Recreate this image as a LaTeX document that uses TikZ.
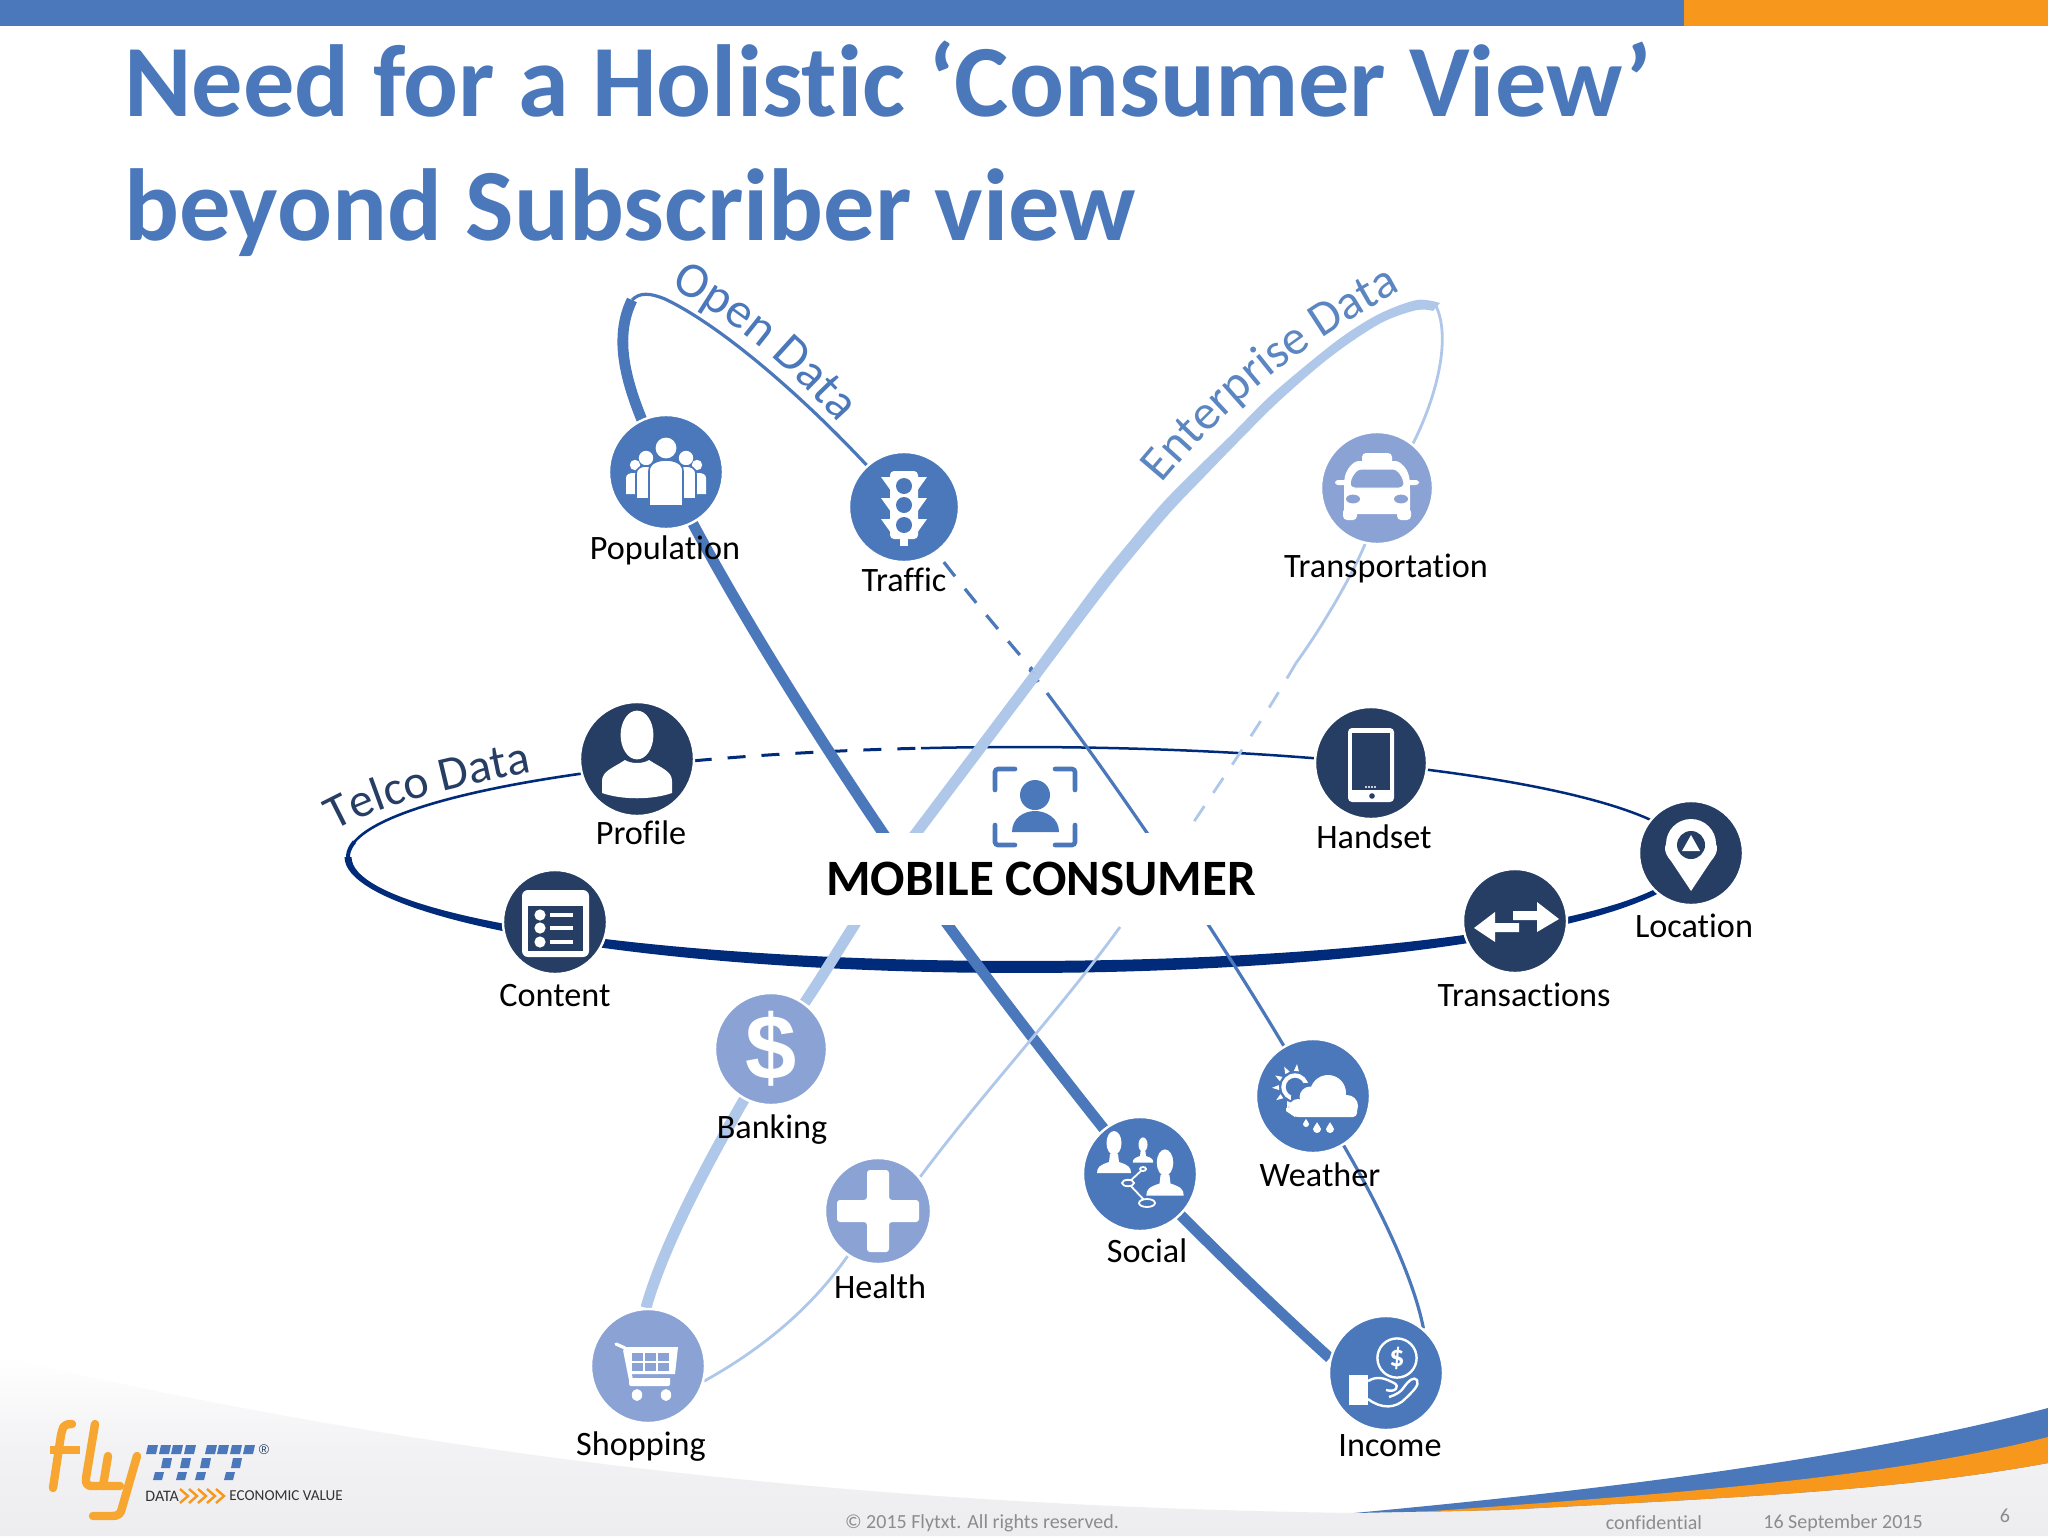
\documentclass[tikz,border=0pt]{standalone}
\usepackage{fontspec}
\setmainfont[Ligatures=NoCommon]{Carlito}
\newfontfamily\liberb{Liberation Sans}
\usetikzlibrary{backgrounds,decorations.text}
\pgfdeclarelayer{orbits}
\pgfsetlayers{background,orbits,main}
\definecolor{bl}{HTML}{4A78BB}
\definecolor{lb}{HTML}{AFC8EA}
\definecolor{pe}{HTML}{8BA3D4}
\definecolor{dk}{HTML}{263D64}
\definecolor{nv}{HTML}{002B7A}
\definecolor{og}{HTML}{F7981D}
\definecolor{ft}{HTML}{8C8C8C}
\definecolor{lg}{HTML}{F7A632}
\definecolor{gy}{HTML}{EDEDF0}
\newcommand{\fs}[1]{\fontsize{#1}{#1}\selectfont}
\tikzset{
  hub/.style n args={2}{circle,inner sep=0pt,minimum size=#1*1pt+1pt,fill=#2,draw=white,line width=1.2pt},
  lab/.style={font=\fs{17.1},text=black,inner sep=0pt,text height=11.5pt,text depth=3.5pt,yshift=-2pt},
  foot/.style={font=\fs{10},text=ft,inner sep=0pt},
  thickopen/.style={draw=bl,line width=5.4pt},
  thinopen/.style={draw=bl,line width=1.6pt},
  thicken/.style={draw=lb,line width=5.5pt},
  thinen/.style={draw=lb,line width=1.4pt},
  dashy/.style={dash pattern=on 9pt off 8pt},
  plotsm/.style={smooth,tension=.55}
}
\newcommand{\bustIcon}[3]{%
  \begin{scope}[shift={(#1,#2)},scale=#3]
    \fill[white] (0,-14) ellipse[x radius=7.5*.5pt,y radius=12*.5pt];
    \fill[white] (-4,-3) -- (4,-3) -- (5,5) .. controls (14,8) and (17,10) .. (17,16) -- (-17,16) .. controls (-17,10) and (-14,8) .. (-5,5) -- cycle;
  \end{scope}}
\newcommand{\dropIcon}[3]{%
  \fill[white] (#1,#2-#3*1.7) .. controls (#1+#3*.3,#2-#3*.9) and (#1+#3,#2-#3*.5) .. (#1+#3,#2) arc[start angle=0,end angle=-180,radius=#3*.5pt] .. controls (#1-#3,#2-#3*.5) and (#1-#3*.3,#2-#3*.9) .. cycle;}
\begin{document}
\begin{tikzpicture}[x=.5pt,y=-.5pt]
\useasboundingbox (0,0) rectangle (2048,1536);
\begin{pgfonlayer}{background}
\fill[white] (0,0) rectangle (2048,1536);
\fill[bl] (0,0) rectangle (1684,26);
\fill[og] (1684,0) rectangle (2048,26);
\path[top color=white,bottom color=gy,middle color=gy!70!white] (0,1357) .. controls (380,1445) and (800,1505) .. (1354,1513) -- (2048,1460) -- (2048,1536) -- (0,1536) -- cycle;
\fill[bl] (1354,1513) .. controls (1600,1490) and (1850,1460) .. (2048,1408) -- (2048,1463) .. controls (1900,1490) and (1750,1497) .. (1500,1510) -- cycle;
\fill[og] (1420,1512) .. controls (1650,1495) and (1880,1480) .. (2048,1437) -- (2048,1463) .. controls (1900,1490) and (1750,1497) .. (1500,1510) -- cycle;
\end{pgfonlayer}
% title
\node[anchor=base west,inner sep=0pt,font=\fs{51.2}\bfseries,text=bl] (t1) at (124,117) {Need for a Holistic ‘Consumer View’};
\node[anchor=base west,inner sep=0pt,font=\fs{51.2}\bfseries,text=bl] (t2) at (124,240) {beyond Subscriber view};
% hubs
\node[hub={56}{bl}] (pop) at (666,472) {};
\node[hub={54}{bl}] (tra) at (904,507) {};
\node[hub={55}{pe}] (tpt) at (1377,488) {};
\node[hub={56}{dk}] (pro) at (637,759) {};
\node[hub={55}{dk}] (han) at (1371,763) {};
\node[hub={51}{dk}] (loc) at (1691,853) {};
\node[hub={51}{dk}] (trn) at (1515,921) {};
\node[hub={51}{dk}] (con) at (555,922) {};
\node[hub={55}{pe}] (ban) at (771,1049) {};
\node[hub={52}{pe}] (hea) at (878,1211) {};
\node[hub={56}{bl}] (soc) at (1140,1174) {};
\node[hub={56}{bl}] (wea) at (1313,1096) {};
\node[hub={56}{pe}] (sho) at (648,1366) {};
\node[hub={56}{bl}] (inc) at (1386,1373) {};
% centre block
\node[fill=white,minimum width=205pt,minimum height=46pt,inner sep=0pt,font=\fs{25.5}\bfseries,text=black] (mc) at (1041,879) {MOBILE CONSUMER};
% orbits
\begin{pgfonlayer}{orbits}
\coordinate (oa) at (632,300);
\coordinate (ea) at (1436,306);
\coordinate (og1) at (883,833);
\coordinate (eg1) at (917,832);
\coordinate (xa) at (1036,674);
\coordinate (oc) at (1047,693);
\coordinate (ed) at (1296,663);
\coordinate (ee) at (1189,829);
\coordinate (ef) at (1120,927);
% telco
\fill[nv] plot[domain=180:0,samples=90] ({1019+674.5*cos(\x)},{857+(113.5+2.5*sin(\x))*sin(\x)})
  -- plot[domain=0:180,samples=90] ({1019+667.5*cos(\x)},{857+(106.5-2.5*sin(\x))*sin(\x)}) -- cycle;
\draw[nv,line width=2pt] plot[domain=181:172,samples=10] ({1019+671*cos(\x)},{857-110*sin(\x)});
\draw[nv,line width=1.3pt] plot[domain=175:119,samples=40] ({1019+671*cos(\x)},{857-110*sin(\x)});
\draw[nv,line width=1.5pt,dashy] plot[domain=119:98.4,samples=20] ({1019+671*cos(\x)},{857-110*sin(\x)});
\draw[nv,line width=1.25pt] plot[domain=98.4:0,samples=70] ({1019+671*cos(\x)},{857-110*sin(\x)});
% open data
\draw[thickopen] (oa) .. controls (610,345) and (630,400) .. (pop.center)
  .. controls (725,590) and (810,725) .. (og1)
  .. controls (940,918) and (1040,1050) .. (soc.center)
  .. controls (1190,1225) and (1260,1295) .. (inc.165);
\draw[thinopen] (oa) .. controls (640,292) and (650,293) .. (665,299) .. controls (730,330) and (830,420) .. (tra.center);
\draw[thinopen,dashy] (tra.center) .. controls (940,561) and (990,620) .. (xa);
\draw[thinopen,line width=2pt] (1030,669) -- (1038,682);
\draw[thinopen] (oc) .. controls (1120,790) and (1230,950) .. (wea.center)
  .. controls (1355,1160) and (1410,1260) .. (inc.50);
% enterprise data
\fill[lb] plot[plotsm] coordinates {(1440,303) (1417,300) (1381,313) (1347,333.4) (1314,358.7) (1269.5,396.5) (1229.5,436.5) (1196,469) (1162.5,503) (1128.3,543.2) (1095.3,584.2) (1031.7,670.6)}
  -- plot[plotsm] coordinates {(1040.3,677.4) (1104.7,591.8) (1137.7,550.8) (1171.5,511) (1204,477) (1236.5,443.5) (1276.5,403.5) (1320,365.3) (1353,340.6) (1385,321) (1417,310) (1433,311)} -- cycle;
\draw[thicken] (xa) -- (eg1) .. controls (880,880) and (840,950) .. (ban.54);
\draw[thicken] (ban.242) .. controls (715,1150) and (665,1240) .. (sho.92);
\draw[thinen] (ea) .. controls (1452,340) and (1435,400) .. (tpt.51);
\draw[thinen] (tpt.258) .. controls (1350,580) and (1320,630) .. (ed);
\draw[thinen,dashy] (ed) .. controls (1260,725) and (1225,775) .. (ee);
\draw[thinen] (ef) .. controls (1060,1010) and (985,1090) .. (hea.39);
\draw[thinen] (hea.236) .. controls (810,1310) and (760,1350) .. (sho.-15);
\end{pgfonlayer}
% curved names
\path[decorate,decoration={text along path,text format delimiters={|}{|},text={|\fs{24}\color{dk}|Telco Data}}] (335,831) .. controls (385,803) and (455,786) .. (555,768);
\path[decorate,decoration={text along path,text format delimiters={|}{|},text={|\fs{25}\color{bl}|Open Data}}] (670,288) .. controls (730,318) and (790,365) .. (862,450);
\path[decorate,decoration={text along path,text format delimiters={|}{|},text={|\fs{24.5}\color{bl!90!white}|Enterprise Data}}] (1162,484) .. controls (1230,402) and (1310,335) .. (1430,276);
% labels
\node[lab] (lpop) at (665,547) {Population};
\node[lab] (ltra) at (904,579) {Traffic};
\node[lab] (ltpt) at (1386,565) {Transportation};
\node[lab] (lpro) at (641,832) {Profile};
\node[lab] (lhan) at (1374,836) {Handset};
\node[lab] (lloc) at (1694,925) {Location};
\node[lab] (ltrn) at (1524,994) {Transactions};
\node[lab] (lcon) at (555,994) {Content};
\node[lab] (lban) at (772,1126) {Banking};
\node[lab] (lhea) at (880,1286) {Health};
\node[lab] (lsoc) at (1147,1250) {Social};
\node[lab] (lwea) at (1320,1174) {Weather};
\node[lab] (lsho) at (641,1443) {Shopping};
\node[lab] (linc) at (1390,1444) {Income};
% footer
\node[foot] (f1) at (982,1523) {© 2015 Flytxt. All rights reserved.};
\node[foot] (f2) at (1654,1523) {confidential};
\node[foot] (f3) at (1843,1523) {16 September 2015};
\node[foot] (f4) at (2005,1516) {6};
% centre icon
\begin{scope}[draw=bl,line width=2.3pt,line cap=round,rounded corners=1.5pt]
\draw (995,790) |- (1015,769);
\draw (1055,769) -| (1075,790);
\draw (995,825) |- (1015,845);
\draw (1055,845) -| (1075,825);
\end{scope}
\fill[bl] (1035,795) circle[radius=7.5pt];
\fill[bl] (1012,832) .. controls (1012,818) and (1024,811) .. (1035,811) .. controls (1046,811) and (1059,818) .. (1059,832) -- cycle;
% population icon
\begin{scope}[shift={(666,472)}]
\fill[white] (-31,-7) circle[radius=2.6pt] (31,-7) circle[radius=2.6pt];
\fill[white] (-40,22) -- (-40,6) .. controls (-40,2) and (-36,1) .. (-32,1) -- (-24,1) -- (-24,22) -- cycle;
\fill[white] (40,22) -- (40,6) .. controls (40,2) and (36,1) .. (32,1) -- (24,1) -- (24,22) -- cycle;
\fill[white] (-20,-14) circle[radius=3.6pt] (20,-14) circle[radius=3.6pt];
\filldraw[white,draw=bl,line width=.8pt] (-30,27) -- (-30,2) .. controls (-30,-4) and (-25,-6) .. (-20,-6) .. controls (-15,-6) and (-10,-4) .. (-10,2) -- (-10,27) -- cycle;
\filldraw[white,draw=bl,line width=.8pt] (30,27) -- (30,2) .. controls (30,-4) and (25,-6) .. (20,-6) .. controls (15,-6) and (10,-4) .. (10,2) -- (10,27) -- cycle;
\fill[white] (0,-24) circle[radius=5.2pt];
\filldraw[white,draw=bl,line width=.8pt] (-17,34) -- (-17,-1) .. controls (-17,-9) and (-8,-12) .. (0,-12) .. controls (8,-12) and (17,-9) .. (17,-1) -- (17,34) -- cycle;
\end{scope}
% traffic light icon
\begin{scope}[shift={(904,507)}]
\fill[white,rounded corners=2pt] (-14,-36) rectangle (14,32);
\fill[white] (-4,30) rectangle (4,39);
\foreach \yy in {-30,-9,12}{\fill[white] (-23,\yy) -- (-13,\yy) -- (-13,\yy+14) -- cycle; \fill[white] (23,\yy) -- (13,\yy) -- (13,\yy+14) -- cycle;}
\foreach \yy in {-21,-2,18}{\fill[bl] (0,\yy) circle[radius=4pt];}
\end{scope}
% taxi icon
\begin{scope}[shift={(1377,488)}]
\fill[white,rounded corners=2pt] (-15,-35) rectangle (15,-20);
\fill[white,rounded corners=3pt] (-33,26) -- (-33,-2) .. controls (-32,-18) and (-24,-27) .. (-12,-27) -- (12,-27) .. controls (24,-27) and (32,-18) .. (33,-2) -- (33,26) -- cycle;
\fill[white,rounded corners=1.5pt] (-42,-8) rectangle (-30,-3) (30,-8) rectangle (42,-3);
\fill[white,rounded corners=2pt] (-34,20) rectangle (-20,32) (20,20) rectangle (34,32);
\filldraw[pe,draw=white,line width=.5pt,rounded corners=3pt] (-28,0) .. controls (-25,-14) and (-20,-19) .. (-10,-19) -- (10,-19) .. controls (20,-19) and (25,-14) .. (28,0) -- cycle;
\fill[pe] (-24,11) ellipse[x radius=3.5pt,y radius=2.2pt] (24,11) ellipse[x radius=3.5pt,y radius=2.2pt];
\end{scope}
% profile icon
\begin{scope}[shift={(637,759)}]
\fill[white] (0,-24) ellipse[x radius=8.2pt,y radius=12.2pt];
\fill[white] (-35,34) -- (-35,22) .. controls (-35,12) and (-24,9) .. (-12,1) .. controls (-6,5) and (6,5) .. (12,1) .. controls (24,9) and (35,12) .. (35,22) -- (35,34) .. controls (15,41) and (-15,41) .. (-35,34) -- cycle;
\end{scope}
% handset icon
\begin{scope}[shift={(1371,763)}]
\fill[white,rounded corners=2pt] (-23,-35) rectangle (23,39);
\fill[dk] (-19,-30) rectangle (19,27);
\fill[dk] (1,33) circle[radius=1.4pt];
\foreach \xx in {-5,-2,1,4}{\fill[white] (\xx,24) circle[radius=.6pt];}
\end{scope}
% location icon
\begin{scope}[shift={(1691,853)}]
\fill[white] (0,38) -- (-20,8) .. controls (-28,-1) and (-26,-7) .. (-25,-9) arc[start angle=180,end angle=0,radius=12.5pt] .. controls (26,-7) and (28,-1) .. (20,8) -- cycle;
\fill[dk] (0,-8) circle[radius=7pt];
\fill[white] (0,-18) -- (9,-2) -- (-9,-2) -- cycle;
\end{scope}
% transactions icon
\begin{scope}[shift={(1515,921)}]
\fill[white] (44,-2) -- (22,-19) -- (22,-10) -- (-2,-10) -- (-2,-1) -- (22,-1) -- (22,11) -- cycle;
\fill[white] (-41,7) -- (-20,-9) -- (-20,2) -- (4,2) -- (4,11) -- (-20,11) -- (-20,21) -- cycle;
\end{scope}
% content icon
\begin{scope}[shift={(555,922)}]
\fill[white,rounded corners=3pt] (-33,-32) rectangle (34,35);
\fill[dk] (-27,-16) rectangle (28,29);
\foreach \yy in {-7,6,20}{\fill[white] (-15,\yy) circle[radius=2.8pt]; \fill[white] (-5,\yy-2.2) rectangle (18,\yy+2.2);}
\end{scope}
% banking icon
\node[inner sep=0pt,font=\liberb\fs{46}\bfseries,text=white] (dollar) at (771,1049) {\$};
% health icon
\begin{scope}[shift={(878,1211)}]
\fill[white,rounded corners=1.5pt] (-11,-41) -- (11,-41) -- (11,-11) -- (41,-11) -- (41,11) -- (11,11) -- (11,41) -- (-11,41) -- (-11,11) -- (-41,11) -- (-41,-11) -- (-11,-11) -- cycle;
\end{scope}
% social icon
\bustIcon{1114}{1157}{1}
\bustIcon{1143}{1153}{.6}
\bustIcon{1165}{1178}{1.1}
\begin{scope}[shift={(1140,1174)}]
\draw[white,line width=.9pt] (3,-5) -- (-12,9) -- (7,29);
\filldraw[bl,draw=white,line width=.9pt] (3,-5) ellipse[x radius=1.5pt,y radius=1pt];
\filldraw[bl,draw=white,line width=.9pt] (-12,9) ellipse[x radius=3pt,y radius=1.6pt];
\filldraw[bl,draw=white,line width=.9pt] (7,29) ellipse[x radius=4pt,y radius=2pt];
\end{scope}
% weather icon
\begin{scope}[shift={(1313,1096)}]
\foreach \aa in {85,118,150,182,215,250}{\fill[white] ({-18+16*cos(\aa)-2.5*sin(\aa)},{-9-16*sin(\aa)-2.5*cos(\aa)}) -- ({-18+16*cos(\aa)+2.5*sin(\aa)},{-9-16*sin(\aa)+2.5*cos(\aa)}) -- ({-18+23*cos(\aa)},{-9-23*sin(\aa)}) -- cycle;}
\filldraw[white] (-18,-9) circle[radius=6.6pt];
\fill[bl] (-18,-9) circle[radius=4.6pt];
\fill[bl] (-7,2) circle[radius=7.5pt];
\fill[bl] (15,-3) circle[radius=10.5pt];
\fill[white] (15,-3) circle[radius=9pt] (34,10) circle[radius=5.5pt] (-15,12) circle[radius=4.5pt] (-3,1) circle[radius=5.2pt];
\fill[white,rounded corners=2pt] (-18,8) rectangle (44,21);
\fill[white] (-27,12) -- (-27,15) -- (-18,21) -- (-18,10) -- cycle;
\fill[white] (44,10) -- (34,4) -- (34,15) -- cycle;
\dropIcon{-7}{28}{3}
\dropIcon{4}{33}{4}
\dropIcon{17}{33}{4}
\end{scope}
% shopping icon
\begin{scope}[shift={(648,1366)}]
\draw[white,line width=1.6pt,line cap=round] (-32,-22) -- (-23,-18);
\fill[white] (-25,-19) -- (30,-19) -- (27,8) -- (-18,8) -- cycle;
\draw[white,line width=2pt] (-23,-16) -- (-17,14) -- (22,14);
\fill[white,rounded corners=1pt] (-19,13) rectangle (22,20);
\foreach \xx in {-16,-3,10}{\foreach \yy in {-13,-3}{\fill[pe] (\xx,\yy) rectangle (\xx+11,\yy+8);}}
\fill[white] (-11,29) ellipse[x radius=2.6pt,y radius=3pt] (18,29) ellipse[x radius=2.6pt,y radius=3pt];
\end{scope}
% income icon
\begin{scope}[shift={(1386,1373)}]
\draw[white,line width=1.2pt] (11,-15) circle[radius=9.8pt];
\node[inner sep=0pt,font=\fs{15}\bfseries,text=white] (coin) at (11,-15) {\$};
\fill[white] (-37,2) rectangle (-18,32);
\draw[white,line width=1.2pt,line join=round] (-18,8) .. controls (-8,2) and (0,6) .. (8,10) .. controls (14,13) and (10,20) .. (0,17);
\draw[white,line width=1.2pt,line join=round] (-18,26) .. controls (-5,36) and (10,36) .. (20,25) .. controls (26,19) and (34,12) .. (31,7) .. controls (28,3) and (22,8) .. (18,14) .. controls (16,18) and (10,22) .. (3,24);
\end{scope}
% logo
\begin{scope}[line join=round]
\draw[lg,line width=4.2pt,line cap=round] (72,1424) .. controls (62,1424) and (63,1428) .. (61,1435) -- (53,1488);
\draw[lg,line width=3.6pt] (50,1450) -- (80,1450);
\draw[lg,line width=4.2pt,line cap=round] (95,1424) -- (86,1478) .. controls (85,1484) and (88,1486) .. (92,1486) -- (104,1486);
\draw[lg,line width=4.2pt,line cap=round] (108,1456) -- (103,1486) -- (120,1486);
\draw[lg,line width=4.2pt,line cap=round] (137,1456) -- (122,1508) .. controls (121,1514) and (118,1516) .. (112,1516) -- (93,1516);
\end{scope}
\foreach \xa in {148,161,173,186,207,219,232,245}{\fill[bl] (\xa,1445) -- (\xa+10,1445) -- (\xa+8,1454) -- (\xa-2,1454) -- cycle;}
\foreach \xa in {163,182,202,233}{\fill[bl] (\xa,1458) -- (\xa+9,1458) -- (\xa+7,1468) -- (\xa-2,1468) -- cycle;}
\foreach \xa in {155,178,197,226}{\fill[bl] (\xa,1472) -- (\xa+9,1472) -- (\xa+7,1480) -- (\xa-2,1480) -- cycle;}
\node[inner sep=0pt,font=\liberb\fs{7},text=dk] (reg) at (264,1450) {®};
\node[inner sep=0pt,anchor=west,font=\fs{8},text=black!80] (ld) at (145,1496) {DATA};
\foreach \xa in {180,189,198,207,216}{\draw[og,line width=1.2pt] (\xa,1489) -- (\xa+8,1496) -- (\xa,1503);}
\node[inner sep=0pt,anchor=west,font=\fs{7.6},text=black!80] (le) at (229,1496) {ECONOMIC VALUE};
\end{tikzpicture}
\end{document}
